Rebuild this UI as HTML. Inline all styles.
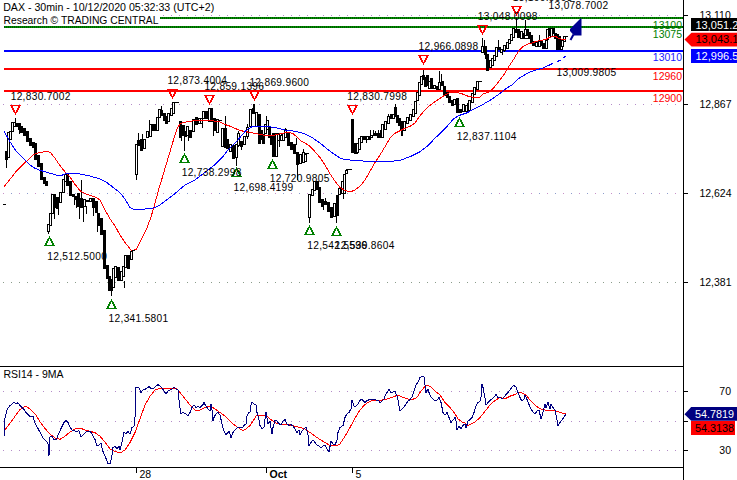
<!DOCTYPE html>
<html><head><meta charset="utf-8"><title>DAX 30min</title>
<style>
html,body{margin:0;padding:0;background:#fff;}
body{width:737px;height:480px;overflow:hidden;}
svg{display:block;font-family:"Liberation Sans", Arial, sans-serif;}
</style></head><body>
<svg width="737" height="480" viewBox="0 0 737 480">
<rect width="737" height="480" fill="#fff"/>
<line x1="3" y1="15.5" x2="683" y2="15.5" stroke="#b48cc8" stroke-width="1" stroke-dasharray="1 7"/>
<line x1="3" y1="104.5" x2="683" y2="104.5" stroke="#b48cc8" stroke-width="1" stroke-dasharray="1 7"/>
<line x1="3" y1="193.5" x2="683" y2="193.5" stroke="#c890c8" stroke-width="1" stroke-dasharray="1 15"/>
<line x1="11" y1="193.5" x2="683" y2="193.5" stroke="#8c9ccc" stroke-width="1" stroke-dasharray="1 15"/>
<line x1="3" y1="282.5" x2="683" y2="282.5" stroke="#8a9c8a" stroke-width="1" stroke-dasharray="1 7"/>
<line x1="3" y1="391.5" x2="683" y2="391.5" stroke="#b48cc8" stroke-width="1" stroke-dasharray="1 7"/>
<line x1="3" y1="421.5" x2="683" y2="421.5" stroke="#b48cc8" stroke-width="1" stroke-dasharray="1 7"/>
<line x1="3" y1="450.5" x2="683" y2="450.5" stroke="#b48cc8" stroke-width="1" stroke-dasharray="1 7"/>
<rect x="160" y="17" width="523" height="2" fill="#009400"/>
<line x1="160" y1="18" x2="683" y2="18" stroke="#005800" stroke-width="2" stroke-dasharray="1 1"/>
<rect x="4" y="26" width="679" height="2" fill="#009400"/>
<line x1="4" y1="27" x2="683" y2="27" stroke="#005800" stroke-width="2" stroke-dasharray="1 1"/>
<rect x="4" y="50" width="679" height="2" fill="#0000ff"/>
<rect x="4" y="68" width="679" height="2" fill="#ff0000"/>
<rect x="4" y="90" width="679" height="2" fill="#ff0000"/>
<g shape-rendering="crispEdges"><rect x="5" y="150.8" width="3" height="9.2" fill="#000"/>
<rect x="7.5" y="132.2" width="2" height="25.6" fill="#fff" stroke="#000" stroke-width="1"/>
<rect x="9.5" y="131.3" width="2" height="8.2" fill="#fff" stroke="#000" stroke-width="1"/>
<rect x="11.5" y="122.2" width="2" height="9.0" fill="#fff" stroke="#000" stroke-width="1"/>
<rect x="13.5" y="122.2" width="2" height="4.0" fill="#fff" stroke="#000" stroke-width="1"/>
<rect x="15" y="123.3" width="3" height="3.4" fill="#000"/>
<rect x="18" y="123.3" width="3" height="6.7" fill="#000"/>
<rect x="20" y="125.8" width="3" height="7.5" fill="#000"/>
<rect x="23" y="128.3" width="3" height="7.5" fill="#000"/>
<rect x="26" y="130.8" width="3" height="10.9" fill="#000"/>
<rect x="29" y="138.3" width="3" height="7.5" fill="#000"/>
<rect x="32" y="141.7" width="3" height="5.8" fill="#000"/>
<rect x="34" y="143.3" width="3" height="16.7" fill="#000"/>
<rect x="37" y="155.0" width="3" height="11.7" fill="#000"/>
<rect x="40" y="163.3" width="3" height="16.7" fill="#000"/>
<rect x="43" y="176.7" width="3" height="7.3" fill="#000"/>
<rect x="45" y="180.8" width="3" height="5.0" fill="#000"/>
<rect x="47.5" y="224.8" width="2" height="6.3" fill="#fff" stroke="#000" stroke-width="1"/>
<rect x="49.5" y="213.1" width="2" height="12.2" fill="#fff" stroke="#000" stroke-width="1"/>
<rect x="51.5" y="194.9" width="2" height="18.7" fill="#fff" stroke="#000" stroke-width="1"/>
<rect x="53" y="194.4" width="3" height="13.9" fill="#000"/>
<rect x="56" y="197.3" width="3" height="11.7" fill="#000"/>
<rect x="59.5" y="192.7" width="2" height="10.0" fill="#fff" stroke="#000" stroke-width="1"/>
<rect x="62.5" y="179.6" width="2" height="12.9" fill="#fff" stroke="#000" stroke-width="1"/>
<rect x="64.5" y="174.5" width="2" height="7.0" fill="#fff" stroke="#000" stroke-width="1"/>
<rect x="66" y="174.0" width="3" height="11.7" fill="#000"/>
<rect x="69" y="180.6" width="3" height="15.3" fill="#000"/>
<rect x="72" y="193.7" width="3" height="2.9" fill="#000"/>
<rect x="75" y="196.0" width="3" height="4.0" fill="#000"/>
<rect x="77" y="193.0" width="3" height="13.8" fill="#000"/>
<rect x="80" y="198.0" width="3" height="9.5" fill="#000"/>
<rect x="83.5" y="199.3" width="2" height="7.0" fill="#fff" stroke="#000" stroke-width="1"/>
<rect x="86.5" y="200.0" width="2" height="1.2" fill="#fff" stroke="#000" stroke-width="1"/>
<rect x="89.5" y="198.5" width="2" height="2.7" fill="#fff" stroke="#000" stroke-width="1"/>
<rect x="92" y="198.0" width="3" height="10.3" fill="#000"/>
<rect x="95" y="201.0" width="3" height="12.0" fill="#000"/>
<rect x="97" y="212.6" width="3" height="13.2" fill="#000"/>
<rect x="100" y="217.5" width="3" height="17.5" fill="#000"/>
<rect x="103" y="230.0" width="3" height="38.8" fill="#000"/>
<rect x="106" y="265.0" width="3" height="13.8" fill="#000"/>
<rect x="108" y="276.0" width="3" height="15.0" fill="#000"/>
<rect x="110" y="278.8" width="3" height="12.2" fill="#000"/>
<rect x="112.5" y="268.5" width="2" height="19.0" fill="#fff" stroke="#000" stroke-width="1"/>
<rect x="114.5" y="266.5" width="2" height="10.5" fill="#fff" stroke="#000" stroke-width="1"/>
<rect x="117" y="267.0" width="3" height="13.6" fill="#000"/>
<rect x="120.5" y="271.0" width="2" height="9.5" fill="#fff" stroke="#000" stroke-width="1"/>
<rect x="122.5" y="266.5" width="2" height="9.5" fill="#fff" stroke="#000" stroke-width="1"/>
<rect x="124.5" y="255.5" width="2" height="11.5" fill="#fff" stroke="#000" stroke-width="1"/>
<rect x="127" y="255.0" width="3" height="13.8" fill="#000"/>
<rect x="130.5" y="251.1" width="2" height="8.4" fill="#fff" stroke="#000" stroke-width="1"/>
<rect x="135.5" y="144.2" width="2" height="30.3" fill="#fff" stroke="#000" stroke-width="1"/>
<rect x="137" y="140.0" width="3" height="5.5" fill="#000"/>
<rect x="140" y="139.0" width="3" height="12.0" fill="#000"/>
<rect x="143.5" y="139.5" width="2" height="9.0" fill="#fff" stroke="#000" stroke-width="1"/>
<rect x="146.5" y="131.4" width="2" height="6.3" fill="#fff" stroke="#000" stroke-width="1"/>
<rect x="149.5" y="124.9" width="2" height="11.9" fill="#fff" stroke="#000" stroke-width="1"/>
<rect x="152" y="123.5" width="3" height="7.4" fill="#000"/>
<rect x="154" y="123.5" width="3" height="7.4" fill="#000"/>
<rect x="156.5" y="117.6" width="2" height="12.8" fill="#fff" stroke="#000" stroke-width="1"/>
<rect x="158.5" y="109.3" width="2" height="8.2" fill="#fff" stroke="#000" stroke-width="1"/>
<rect x="160" y="109.8" width="3" height="6.4" fill="#000"/>
<rect x="163" y="112.5" width="3" height="8.3" fill="#000"/>
<rect x="165" y="116.1" width="3" height="8.3" fill="#000"/>
<rect x="167.5" y="113.0" width="2" height="8.2" fill="#fff" stroke="#000" stroke-width="1"/>
<rect x="170.5" y="108.5" width="2" height="7.2" fill="#fff" stroke="#000" stroke-width="1"/>
<rect x="172.5" y="102.9" width="2" height="10.9" fill="#fff" stroke="#000" stroke-width="1"/>
<rect x="179" y="121.0" width="3" height="17.0" fill="#000"/>
<rect x="182" y="124.9" width="3" height="11.1" fill="#000"/>
<rect x="184" y="131.0" width="3" height="5.8" fill="#000"/>
<rect x="186.5" y="126.5" width="2" height="8.5" fill="#fff" stroke="#000" stroke-width="1"/>
<rect x="189" y="130.0" width="3" height="8.0" fill="#000"/>
<rect x="192.5" y="119.5" width="2" height="12.4" fill="#fff" stroke="#000" stroke-width="1"/>
<rect x="195" y="117.4" width="3" height="7.5" fill="#000"/>
<rect x="198.5" y="118.5" width="2" height="4.6" fill="#fff" stroke="#000" stroke-width="1"/>
<rect x="200.5" y="118.5" width="2" height="4.6" fill="#fff" stroke="#000" stroke-width="1"/>
<rect x="202.5" y="111.0" width="2" height="7.8" fill="#fff" stroke="#000" stroke-width="1"/>
<rect x="205" y="110.5" width="3" height="8.1" fill="#000"/>
<rect x="208.5" y="108.5" width="2" height="12.8" fill="#fff" stroke="#000" stroke-width="1"/>
<rect x="210" y="108.0" width="3" height="13.8" fill="#000"/>
<rect x="213" y="118.0" width="3" height="13.0" fill="#000"/>
<rect x="216.5" y="119.8" width="2" height="12.8" fill="#fff" stroke="#000" stroke-width="1"/>
<rect x="219.5" y="120.0" width="2" height="0.5" fill="#fff" stroke="#000" stroke-width="1"/>
<rect x="221.5" y="128.2" width="2" height="18.5" fill="#fff" stroke="#000" stroke-width="1"/>
<rect x="224" y="127.7" width="3" height="20.3" fill="#000"/>
<rect x="226" y="139.0" width="3" height="9.7" fill="#000"/>
<rect x="229.5" y="144.0" width="2" height="7.2" fill="#fff" stroke="#000" stroke-width="1"/>
<rect x="232" y="145.0" width="3" height="13.5" fill="#000"/>
<rect x="235.5" y="144.7" width="2" height="12.5" fill="#fff" stroke="#000" stroke-width="1"/>
<rect x="238" y="130.7" width="1" height="15.8" fill="#000"/>
<rect x="237.5" y="133.3" width="2" height="11.7" fill="#fff" stroke="#000" stroke-width="1"/>
<rect x="240" y="140.5" width="3" height="6.0" fill="#000"/>
<rect x="243.5" y="136.5" width="2" height="8.0" fill="#fff" stroke="#000" stroke-width="1"/>
<rect x="247" y="124.0" width="1" height="15.0" fill="#000"/>
<rect x="246.5" y="127.9" width="2" height="8.3" fill="#fff" stroke="#000" stroke-width="1"/>
<rect x="249.5" y="109.5" width="2" height="17.0" fill="#fff" stroke="#000" stroke-width="1"/>
<rect x="252" y="108.2" width="3" height="5.3" fill="#000"/>
<rect x="255.5" y="112.5" width="2" height="14.0" fill="#fff" stroke="#000" stroke-width="1"/>
<rect x="258" y="113.5" width="3" height="30.0" fill="#000"/>
<rect x="260" y="130.4" width="3" height="9.2" fill="#000"/>
<rect x="262" y="134.3" width="3" height="9.2" fill="#000"/>
<rect x="264.5" y="124.3" width="2" height="9.2" fill="#fff" stroke="#000" stroke-width="1"/>
<rect x="266.5" y="120.0" width="2" height="9.2" fill="#fff" stroke="#000" stroke-width="1"/>
<rect x="268" y="126.0" width="3" height="12.4" fill="#000"/>
<rect x="270" y="134.8" width="3" height="10.2" fill="#000"/>
<rect x="272" y="133.3" width="3" height="24.1" fill="#000"/>
<rect x="275.5" y="133.8" width="2" height="23.1" fill="#fff" stroke="#000" stroke-width="1"/>
<rect x="277.5" y="133.8" width="2" height="6.3" fill="#fff" stroke="#000" stroke-width="1"/>
<rect x="281" y="132.6" width="1" height="8.7" fill="#000"/>
<rect x="280.5" y="135.0" width="2" height="5.7" fill="#fff" stroke="#000" stroke-width="1"/>
<rect x="282.5" y="133.4" width="2" height="7.1" fill="#fff" stroke="#000" stroke-width="1"/>
<rect x="284.5" y="129.5" width="2" height="7.7" fill="#fff" stroke="#000" stroke-width="1"/>
<rect x="287" y="131.9" width="3" height="13.8" fill="#000"/>
<rect x="290" y="142.0" width="3" height="8.0" fill="#000"/>
<rect x="293" y="144.3" width="3" height="9.4" fill="#000"/>
<rect x="296" y="151.5" width="3" height="13.2" fill="#000"/>
<rect x="299.5" y="154.2" width="2" height="9.3" fill="#fff" stroke="#000" stroke-width="1"/>
<rect x="302.5" y="152.8" width="2" height="9.2" fill="#fff" stroke="#000" stroke-width="1"/>
<rect x="304.5" y="154.2" width="2" height="7.0" fill="#fff" stroke="#000" stroke-width="1"/>
<rect x="308.5" y="194.1" width="2" height="23.8" fill="#fff" stroke="#000" stroke-width="1"/>
<rect x="311.5" y="189.3" width="2" height="6.6" fill="#fff" stroke="#000" stroke-width="1"/>
<rect x="313.5" y="181.8" width="2" height="8.6" fill="#fff" stroke="#000" stroke-width="1"/>
<rect x="316" y="181.3" width="3" height="8.9" fill="#000"/>
<rect x="318" y="186.8" width="3" height="16.5" fill="#000"/>
<rect x="321" y="199.0" width="3" height="8.4" fill="#000"/>
<rect x="324" y="201.2" width="3" height="3.4" fill="#000"/>
<rect x="327" y="201.9" width="3" height="9.6" fill="#000"/>
<rect x="330" y="207.4" width="3" height="11.0" fill="#000"/>
<rect x="333.5" y="203.1" width="2" height="13.4" fill="#fff" stroke="#000" stroke-width="1"/>
<rect x="336" y="195.0" width="3" height="21.3" fill="#000"/>
<rect x="338.5" y="188.6" width="2" height="5.9" fill="#fff" stroke="#000" stroke-width="1"/>
<rect x="341.5" y="181.8" width="2" height="12.0" fill="#fff" stroke="#000" stroke-width="1"/>
<rect x="343.5" y="174.9" width="2" height="18.2" fill="#fff" stroke="#000" stroke-width="1"/>
<rect x="345.5" y="170.8" width="2" height="3.1" fill="#fff" stroke="#000" stroke-width="1"/>
<rect x="351" y="118.8" width="3" height="33.8" fill="#000"/>
<rect x="354" y="142.5" width="3" height="11.2" fill="#000"/>
<rect x="356.5" y="143.0" width="2" height="9.0" fill="#fff" stroke="#000" stroke-width="1"/>
<rect x="358.5" y="138.0" width="2" height="11.5" fill="#fff" stroke="#000" stroke-width="1"/>
<rect x="360.5" y="136.1" width="2" height="5.9" fill="#fff" stroke="#000" stroke-width="1"/>
<rect x="363" y="135.6" width="3" height="4.4" fill="#000"/>
<rect x="366.5" y="136.1" width="2" height="3.4" fill="#fff" stroke="#000" stroke-width="1"/>
<rect x="368" y="135.6" width="3" height="4.4" fill="#000"/>
<rect x="370.5" y="135.5" width="2" height="1.5" fill="#fff" stroke="#000" stroke-width="1"/>
<rect x="373" y="133.0" width="3" height="3.2" fill="#000"/>
<rect x="375" y="133.0" width="3" height="3.2" fill="#000"/>
<rect x="377" y="132.5" width="3" height="5.0" fill="#000"/>
<rect x="379" y="132.5" width="3" height="5.0" fill="#000"/>
<rect x="381.5" y="124.9" width="2" height="12.1" fill="#fff" stroke="#000" stroke-width="1"/>
<rect x="384.5" y="121.8" width="2" height="7.2" fill="#fff" stroke="#000" stroke-width="1"/>
<rect x="387.5" y="116.1" width="2" height="7.2" fill="#fff" stroke="#000" stroke-width="1"/>
<rect x="390" y="114.0" width="3" height="5.0" fill="#000"/>
<rect x="392.5" y="114.5" width="2" height="4.0" fill="#fff" stroke="#000" stroke-width="1"/>
<rect x="394" y="107.0" width="3" height="9.6" fill="#000"/>
<rect x="396" y="115.0" width="3" height="7.7" fill="#000"/>
<rect x="398" y="118.3" width="3" height="7.7" fill="#000"/>
<rect x="400" y="121.0" width="3" height="10.2" fill="#000"/>
<rect x="403.5" y="121.5" width="2" height="9.2" fill="#fff" stroke="#000" stroke-width="1"/>
<rect x="406.5" y="117.1" width="2" height="6.4" fill="#fff" stroke="#000" stroke-width="1"/>
<rect x="409.5" y="114.2" width="2" height="6.3" fill="#fff" stroke="#000" stroke-width="1"/>
<rect x="412.5" y="109.9" width="2" height="6.2" fill="#fff" stroke="#000" stroke-width="1"/>
<rect x="414.5" y="101.1" width="2" height="12.1" fill="#fff" stroke="#000" stroke-width="1"/>
<rect x="416.5" y="92.4" width="2" height="8.4" fill="#fff" stroke="#000" stroke-width="1"/>
<rect x="418.5" y="82.9" width="2" height="12.8" fill="#fff" stroke="#000" stroke-width="1"/>
<rect x="420.5" y="76.3" width="2" height="7.8" fill="#fff" stroke="#000" stroke-width="1"/>
<rect x="422" y="75.0" width="3" height="5.0" fill="#000"/>
<rect x="424" y="76.6" width="3" height="10.2" fill="#000"/>
<rect x="426" y="75.0" width="3" height="11.2" fill="#000"/>
<rect x="428.5" y="81.1" width="2" height="6.9" fill="#fff" stroke="#000" stroke-width="1"/>
<rect x="430" y="77.8" width="3" height="10.7" fill="#000"/>
<rect x="433.5" y="85.6" width="2" height="2.9" fill="#fff" stroke="#000" stroke-width="1"/>
<rect x="436" y="86.2" width="3" height="3.4" fill="#000"/>
<rect x="438.5" y="82.2" width="2" height="6.9" fill="#fff" stroke="#000" stroke-width="1"/>
<rect x="441" y="80.6" width="3" height="5.6" fill="#000"/>
<rect x="443" y="85.7" width="3" height="10.7" fill="#000"/>
<rect x="446" y="91.9" width="3" height="5.6" fill="#000"/>
<rect x="448" y="95.8" width="3" height="7.3" fill="#000"/>
<rect x="451" y="99.7" width="3" height="6.3" fill="#000"/>
<rect x="453.5" y="99.1" width="2" height="5.8" fill="#fff" stroke="#000" stroke-width="1"/>
<rect x="456" y="98.0" width="3" height="14.7" fill="#000"/>
<rect x="459" y="108.7" width="3" height="4.5" fill="#000"/>
<rect x="462.5" y="104.7" width="2" height="6.9" fill="#fff" stroke="#000" stroke-width="1"/>
<rect x="465.5" y="105.9" width="2" height="5.7" fill="#fff" stroke="#000" stroke-width="1"/>
<rect x="468.5" y="100.2" width="2" height="10.3" fill="#fff" stroke="#000" stroke-width="1"/>
<rect x="471.5" y="93.5" width="2" height="9.1" fill="#fff" stroke="#000" stroke-width="1"/>
<rect x="473.5" y="87.3" width="2" height="7.4" fill="#fff" stroke="#000" stroke-width="1"/>
<rect x="476.5" y="81.7" width="2" height="7.4" fill="#fff" stroke="#000" stroke-width="1"/>
<rect x="481.5" y="46.0" width="2" height="6.0" fill="#fff" stroke="#000" stroke-width="1"/>
<rect x="484" y="45.5" width="3" height="9.3" fill="#000"/>
<rect x="486" y="53.9" width="3" height="16.9" fill="#000"/>
<rect x="489.5" y="60.5" width="2" height="6.5" fill="#fff" stroke="#000" stroke-width="1"/>
<rect x="491.5" y="58.6" width="2" height="6.9" fill="#fff" stroke="#000" stroke-width="1"/>
<rect x="493.5" y="55.8" width="2" height="4.7" fill="#fff" stroke="#000" stroke-width="1"/>
<rect x="495.5" y="47.8" width="2" height="8.4" fill="#fff" stroke="#000" stroke-width="1"/>
<rect x="498" y="47.3" width="3" height="2.9" fill="#000"/>
<rect x="500.5" y="49.7" width="2" height="2.8" fill="#fff" stroke="#000" stroke-width="1"/>
<rect x="503.5" y="45.5" width="2" height="5.0" fill="#fff" stroke="#000" stroke-width="1"/>
<rect x="506.5" y="42.8" width="2" height="5.7" fill="#fff" stroke="#000" stroke-width="1"/>
<rect x="508.5" y="39.1" width="2" height="4.4" fill="#fff" stroke="#000" stroke-width="1"/>
<rect x="510.5" y="34.5" width="2" height="5.7" fill="#fff" stroke="#000" stroke-width="1"/>
<rect x="512.5" y="28.7" width="2" height="9.0" fill="#fff" stroke="#000" stroke-width="1"/>
<rect x="514" y="28.6" width="3" height="4.6" fill="#000"/>
<rect x="517" y="28.6" width="3" height="9.6" fill="#000"/>
<rect x="520.5" y="31.2" width="2" height="7.3" fill="#fff" stroke="#000" stroke-width="1"/>
<rect x="522" y="33.2" width="3" height="5.8" fill="#000"/>
<rect x="524.5" y="29.5" width="2" height="5.7" fill="#fff" stroke="#000" stroke-width="1"/>
<rect x="526" y="29.0" width="3" height="7.0" fill="#000"/>
<rect x="528" y="32.0" width="3" height="7.0" fill="#000"/>
<rect x="530" y="34.8" width="3" height="8.4" fill="#000"/>
<rect x="532" y="40.7" width="3" height="5.0" fill="#000"/>
<rect x="535.5" y="42.0" width="2" height="4.8" fill="#fff" stroke="#000" stroke-width="1"/>
<rect x="538.5" y="41.2" width="2" height="4.8" fill="#fff" stroke="#000" stroke-width="1"/>
<rect x="540" y="40.3" width="3" height="5.7" fill="#000"/>
<rect x="542" y="42.8" width="3" height="5.7" fill="#000"/>
<rect x="545.5" y="40.0" width="2" height="8.0" fill="#fff" stroke="#000" stroke-width="1"/>
<rect x="546.5" y="29.5" width="2" height="10.3" fill="#fff" stroke="#000" stroke-width="1"/>
<rect x="548" y="27.9" width="3" height="8.2" fill="#000"/>
<rect x="550.5" y="28.4" width="2" height="8.0" fill="#fff" stroke="#000" stroke-width="1"/>
<rect x="552" y="27.9" width="3" height="6.0" fill="#000"/>
<rect x="554" y="32.8" width="3" height="6.4" fill="#000"/>
<rect x="556" y="33.5" width="3" height="16.1" fill="#000"/>
<rect x="558" y="35.8" width="3" height="13.9" fill="#000"/>
<rect x="560.5" y="45.2" width="2" height="3.9" fill="#fff" stroke="#000" stroke-width="1"/>
<rect x="561.5" y="40.4" width="2" height="5.7" fill="#fff" stroke="#000" stroke-width="1"/>
<rect x="563.5" y="36.6" width="2" height="4.6" fill="#fff" stroke="#000" stroke-width="1"/>
<rect x="48" y="231.0" width="1" height="2.8" fill="#000"/>
<rect x="54" y="208.0" width="1" height="10.5" fill="#000"/>
<rect x="58" y="209.0" width="1" height="5.8" fill="#000"/>
<rect x="74" y="196.0" width="1" height="8.6" fill="#000"/>
<rect x="76" y="198.0" width="1" height="10.3" fill="#000"/>
<rect x="79" y="206.0" width="1" height="13.2" fill="#000"/>
<rect x="81" y="179.8" width="1" height="18.2" fill="#000"/>
<rect x="83" y="207.0" width="1" height="15.0" fill="#000"/>
<rect x="86" y="206.0" width="1" height="8.0" fill="#000"/>
<rect x="93" y="208.0" width="1" height="8.3" fill="#000"/>
<rect x="97" y="225.0" width="1" height="7.3" fill="#000"/>
<rect x="6" y="158.0" width="1" height="10.0" fill="#000"/>
<rect x="15" y="117.5" width="1" height="4.5" fill="#000"/>
<rect x="19" y="128.0" width="1" height="6.0" fill="#000"/>
<rect x="124" y="281.0" width="1" height="7.0" fill="#000"/>
<rect x="136" y="175.0" width="1" height="4.5" fill="#000"/>
<rect x="138" y="132.7" width="1" height="7.3" fill="#000"/>
<rect x="142" y="133.6" width="1" height="5.4" fill="#000"/>
<rect x="149" y="119.9" width="1" height="4.5" fill="#000"/>
<rect x="161" y="106.0" width="1" height="4.0" fill="#000"/>
<rect x="181" y="138.0" width="1" height="3.0" fill="#000"/>
<rect x="184" y="134.0" width="1" height="16.5" fill="#000"/>
<rect x="188" y="135.0" width="1" height="6.0" fill="#000"/>
<rect x="202" y="123.0" width="1" height="5.0" fill="#000"/>
<rect x="213" y="131.0" width="1" height="4.5" fill="#000"/>
<rect x="225" y="115.7" width="1" height="12.3" fill="#000"/>
<rect x="236" y="157.0" width="1" height="9.0" fill="#000"/>
<rect x="241" y="146.0" width="1" height="3.5" fill="#000"/>
<rect x="253" y="103.7" width="1" height="4.8" fill="#000"/>
<rect x="254" y="103.7" width="1" height="4.8" fill="#000"/>
<rect x="266" y="115.8" width="1" height="4.2" fill="#000"/>
<rect x="279" y="140.0" width="1" height="7.2" fill="#000"/>
<rect x="285" y="128.2" width="1" height="1.8" fill="#000"/>
<rect x="296" y="138.4" width="1" height="6.6" fill="#000"/>
<rect x="297" y="164.0" width="1" height="16.0" fill="#000"/>
<rect x="303" y="149.4" width="1" height="3.6" fill="#000"/>
<rect x="309" y="218.0" width="1" height="4.5" fill="#000"/>
<rect x="323" y="207.0" width="1" height="2.5" fill="#000"/>
<rect x="325" y="197.8" width="1" height="3.7" fill="#000"/>
<rect x="336" y="216.0" width="1" height="6.5" fill="#000"/>
<rect x="343" y="194.0" width="1" height="4.5" fill="#000"/>
<rect x="357" y="152.0" width="1" height="2.4" fill="#000"/>
<rect x="366" y="140.0" width="1" height="2.5" fill="#000"/>
<rect x="370" y="130.0" width="1" height="5.0" fill="#000"/>
<rect x="373" y="130.0" width="1" height="3.0" fill="#000"/>
<rect x="375" y="130.6" width="1" height="2.4" fill="#000"/>
<rect x="378" y="130.0" width="1" height="2.5" fill="#000"/>
<rect x="380" y="130.0" width="1" height="2.5" fill="#000"/>
<rect x="388" y="114.4" width="1" height="1.6" fill="#000"/>
<rect x="395" y="103.8" width="1" height="10.2" fill="#000"/>
<rect x="401" y="131.0" width="1" height="4.6" fill="#000"/>
<rect x="402" y="131.0" width="1" height="4.6" fill="#000"/>
<rect x="423" y="69.5" width="1" height="6.5" fill="#000"/>
<rect x="439" y="71.0" width="1" height="11.0" fill="#000"/>
<rect x="441" y="73.9" width="1" height="7.1" fill="#000"/>
<rect x="467" y="103.0" width="1" height="2.4" fill="#000"/>
<rect x="471" y="99.2" width="1" height="0.8" fill="#000"/>
<rect x="482" y="38.0" width="1" height="8.0" fill="#000"/>
<rect x="484" y="39.8" width="1" height="6.2" fill="#000"/>
<rect x="485" y="54.0" width="1" height="4.6" fill="#000"/>
<rect x="498" y="39.8" width="1" height="8.2" fill="#000"/>
<rect x="502" y="53.0" width="1" height="1.8" fill="#000"/>
<rect x="516" y="17.7" width="1" height="11.3" fill="#000"/>
<rect x="525" y="19.8" width="1" height="10.2" fill="#000"/>
<rect x="539" y="35.0" width="1" height="6.4" fill="#000"/>
<rect x="504" y="49.8" width="1" height="2.5" fill="#000"/>
<rect x="111" y="290.0" width="1" height="6.0" fill="#000"/>
<rect x="100" y="230.0" width="1" height="5.0" fill="#000"/></g>
<polyline points="4.0,186.7 8.0,181.7 12.0,176.7 16.0,171.7 20.0,167.5 25.0,162.5 30.0,158.3 33.0,155.0 36.0,153.7 40.0,152.5 45.0,151.7 48.0,151.2 51.0,153.0 55.0,158.3 60.0,165.6 65.0,171.9 70.0,177.0 75.0,184.4 80.0,190.6 85.0,193.8 90.0,195.4 95.0,196.9 100.0,200.0 105.0,210.0 110.0,218.8 115.0,226.0 120.0,235.0 125.0,242.5 130.0,248.8 132.0,251.2 136.5,249.0 140.8,240.4 146.7,228.7 151.0,217.0 154.0,206.8 158.3,190.8 162.7,176.2 167.0,161.6 171.4,147.0 174.4,136.9 177.3,128.1 180.2,123.7 184.6,122.3 190.0,121.2 200.0,120.0 210.0,120.0 215.0,121.2 220.0,122.0 225.0,124.5 230.0,126.2 240.0,130.5 250.0,132.5 262.0,134.8 267.8,136.0 273.7,135.5 281.0,133.3 288.2,132.6 292.6,133.3 297.0,137.0 301.4,141.3 305.7,143.5 310.1,146.4 313.0,149.5 320.0,157.5 325.0,165.0 330.0,173.8 335.0,181.2 340.0,187.5 345.0,190.5 350.0,192.0 355.0,190.0 360.0,186.2 365.0,180.0 370.0,171.2 375.0,162.5 380.0,155.0 385.0,146.7 390.0,138.3 395.0,133.3 400.0,130.8 405.0,128.3 410.0,126.3 415.0,123.0 420.0,115.8 425.0,110.0 430.0,105.3 435.0,101.7 440.0,98.3 445.0,95.0 450.0,92.5 455.0,92.0 462.0,93.8 468.0,96.2 475.0,97.6 480.0,97.3 483.0,94.1 489.0,92.0 493.3,88.3 499.2,81.0 505.0,73.0 509.4,65.7 513.7,59.2 518.1,51.9 522.5,46.8 526.9,44.3 531.2,43.4 536.0,41.4 545.0,39.7 549.5,37.6 553.3,36.1 555.5,36.4 557.8,38.0 561.5,39.1 566.0,39.7" fill="none" stroke="#ff0000" stroke-width="1" shape-rendering="crispEdges"/>
<polyline points="4.0,131.3 8.0,138.3 12.0,145.0 16.0,150.8 20.0,155.0 25.0,160.0 30.0,165.0 35.0,168.3 40.0,170.3 45.0,171.7 50.0,173.3 60.0,176.0 65.0,174.0 70.0,173.5 80.0,174.0 90.0,176.0 100.0,179.0 106.0,182.0 112.0,186.5 120.0,192.7 125.0,199.0 130.0,207.5 133.0,209.0 140.0,209.2 150.0,208.8 155.0,207.5 160.0,205.0 165.0,201.0 172.0,196.0 178.0,191.0 185.0,185.0 195.0,180.0 205.0,172.5 216.0,163.7 222.0,157.7 228.0,150.0 234.0,144.3 240.0,137.5 246.0,130.5 252.0,126.7 256.5,126.2 265.0,126.2 275.0,127.5 285.0,130.0 295.0,131.2 305.0,133.8 312.0,137.5 320.0,143.0 330.0,151.2 340.0,158.0 345.0,159.5 355.0,160.5 370.0,161.5 380.0,162.0 390.0,161.5 400.0,160.3 410.0,156.7 420.0,151.7 426.7,146.7 435.0,138.3 441.7,131.7 448.3,125.0 453.3,119.2 458.3,115.8 462.0,114.5 466.0,113.2 470.0,111.2 480.0,106.2 490.4,100.0 499.2,94.1 506.4,88.3 512.3,84.7 518.1,78.8 525.4,74.5 531.2,71.5 537.0,69.7 543.4,67.9" fill="none" stroke="#0000ff" stroke-width="1" shape-rendering="crispEdges"/>
<line x1="543.4" y1="67.9" x2="553.3" y2="63.2" stroke="#0000ff" stroke-width="1" shape-rendering="crispEdges"/>
<line x1="557" y1="61.7" x2="560.6" y2="60.1" stroke="#0000ff" stroke-width="1" shape-rendering="crispEdges"/>
<line x1="562.7" y1="58.5" x2="565.8" y2="56" stroke="#0000ff" stroke-width="1" shape-rendering="crispEdges"/>
<rect x="304" y="153" width="5" height="1" fill="#000"/>
<rect x="174" y="102" width="5" height="1" fill="#000"/>
<rect x="132" y="250" width="3" height="1" fill="#000"/>
<rect x="346" y="169" width="6" height="1" fill="#000"/>
<rect x="478" y="81" width="4" height="1" fill="#000"/>
<rect x="563" y="36" width="5" height="1" fill="#000"/>
<rect x="525" y="38" width="3" height="1" fill="#000"/>
<rect x="3" y="204" width="3" height="1" fill="#000"/>
<path d="M10,105h11v1h-11zM11,106h2v1h-2zM18,106h2v1h-2zM11,107h2v1h-2zM18,107h2v1h-2zM12,108h2v1h-2zM17,108h2v1h-2zM12,109h2v1h-2zM17,109h2v1h-2zM13,110h2v1h-2zM16,110h2v1h-2zM13,111h2v1h-2zM16,111h2v1h-2zM14,112h3v1h-3zM15,113h1v1h-1zM15,114h1v1h-1z" fill="#ff0000"/>
<path d="M167,89h11v1h-11zM168,90h2v1h-2zM175,90h2v1h-2zM168,91h2v1h-2zM175,91h2v1h-2zM169,92h2v1h-2zM174,92h2v1h-2zM169,93h2v1h-2zM174,93h2v1h-2zM170,94h2v1h-2zM173,94h2v1h-2zM170,95h2v1h-2zM173,95h2v1h-2zM171,96h3v1h-3zM172,97h1v1h-1zM172,98h1v1h-1z" fill="#ff0000"/>
<path d="M204,95h11v1h-11zM205,96h2v1h-2zM212,96h2v1h-2zM205,97h2v1h-2zM212,97h2v1h-2zM206,98h2v1h-2zM211,98h2v1h-2zM206,99h2v1h-2zM211,99h2v1h-2zM207,100h2v1h-2zM210,100h2v1h-2zM207,101h2v1h-2zM210,101h2v1h-2zM208,102h3v1h-3zM209,103h1v1h-1zM209,104h1v1h-1z" fill="#ff0000"/>
<path d="M249,91h11v1h-11zM250,92h2v1h-2zM257,92h2v1h-2zM250,93h2v1h-2zM257,93h2v1h-2zM251,94h2v1h-2zM256,94h2v1h-2zM251,95h2v1h-2zM256,95h2v1h-2zM252,96h2v1h-2zM255,96h2v1h-2zM252,97h2v1h-2zM255,97h2v1h-2zM253,98h3v1h-3zM254,99h1v1h-1zM254,100h1v1h-1z" fill="#ff0000"/>
<path d="M347,105h11v1h-11zM348,106h2v1h-2zM355,106h2v1h-2zM348,107h2v1h-2zM355,107h2v1h-2zM349,108h2v1h-2zM354,108h2v1h-2zM349,109h2v1h-2zM354,109h2v1h-2zM350,110h2v1h-2zM353,110h2v1h-2zM350,111h2v1h-2zM353,111h2v1h-2zM351,112h3v1h-3zM352,113h1v1h-1zM352,114h1v1h-1z" fill="#ff0000"/>
<path d="M418,55h11v1h-11zM419,56h2v1h-2zM426,56h2v1h-2zM419,57h2v1h-2zM426,57h2v1h-2zM420,58h2v1h-2zM425,58h2v1h-2zM420,59h2v1h-2zM425,59h2v1h-2zM421,60h2v1h-2zM424,60h2v1h-2zM421,61h2v1h-2zM424,61h2v1h-2zM422,62h3v1h-3zM423,63h1v1h-1zM423,64h1v1h-1z" fill="#ff0000"/>
<path d="M477,25h11v1h-11zM478,26h2v1h-2zM485,26h2v1h-2zM478,27h2v1h-2zM485,27h2v1h-2zM479,28h2v1h-2zM484,28h2v1h-2zM479,29h2v1h-2zM484,29h2v1h-2zM480,30h2v1h-2zM483,30h2v1h-2zM480,31h2v1h-2zM483,31h2v1h-2zM481,32h3v1h-3zM482,33h1v1h-1zM482,34h1v1h-1z" fill="#ff0000"/>
<path d="M511,6h11v1h-11zM512,7h2v1h-2zM519,7h2v1h-2zM512,8h2v1h-2zM519,8h2v1h-2zM513,9h2v1h-2zM518,9h2v1h-2zM513,10h2v1h-2zM518,10h2v1h-2zM514,11h2v1h-2zM517,11h2v1h-2zM514,12h2v1h-2zM517,12h2v1h-2zM515,13h3v1h-3zM516,14h1v1h-1zM516,15h1v1h-1z" fill="#ff0000"/>
<path d="M44,245h11v1h-11zM45,244h2v1h-2zM52,244h2v1h-2zM45,243h2v1h-2zM52,243h2v1h-2zM46,242h2v1h-2zM51,242h2v1h-2zM46,241h2v1h-2zM51,241h2v1h-2zM47,240h2v1h-2zM50,240h2v1h-2zM47,239h2v1h-2zM50,239h2v1h-2zM48,238h3v1h-3zM49,237h1v1h-1zM49,236h1v1h-1z" fill="#008000"/>
<path d="M106,308h11v1h-11zM107,307h2v1h-2zM114,307h2v1h-2zM107,306h2v1h-2zM114,306h2v1h-2zM108,305h2v1h-2zM113,305h2v1h-2zM108,304h2v1h-2zM113,304h2v1h-2zM109,303h2v1h-2zM112,303h2v1h-2zM109,302h2v1h-2zM112,302h2v1h-2zM110,301h3v1h-3zM111,300h1v1h-1zM111,299h1v1h-1z" fill="#008000"/>
<path d="M179,162h11v1h-11zM180,161h2v1h-2zM187,161h2v1h-2zM180,160h2v1h-2zM187,160h2v1h-2zM181,159h2v1h-2zM186,159h2v1h-2zM181,158h2v1h-2zM186,158h2v1h-2zM182,157h2v1h-2zM185,157h2v1h-2zM182,156h2v1h-2zM185,156h2v1h-2zM183,155h3v1h-3zM184,154h1v1h-1zM184,153h1v1h-1z" fill="#008000"/>
<path d="M231,176h11v1h-11zM232,175h2v1h-2zM239,175h2v1h-2zM232,174h2v1h-2zM239,174h2v1h-2zM233,173h2v1h-2zM238,173h2v1h-2zM233,172h2v1h-2zM238,172h2v1h-2zM234,171h2v1h-2zM237,171h2v1h-2zM234,170h2v1h-2zM237,170h2v1h-2zM235,169h3v1h-3zM236,168h1v1h-1zM236,167h1v1h-1z" fill="#008000"/>
<path d="M267,168h11v1h-11zM268,167h2v1h-2zM275,167h2v1h-2zM268,166h2v1h-2zM275,166h2v1h-2zM269,165h2v1h-2zM274,165h2v1h-2zM269,164h2v1h-2zM274,164h2v1h-2zM270,163h2v1h-2zM273,163h2v1h-2zM270,162h2v1h-2zM273,162h2v1h-2zM271,161h3v1h-3zM272,160h1v1h-1zM272,159h1v1h-1z" fill="#008000"/>
<path d="M304,234h11v1h-11zM305,233h2v1h-2zM312,233h2v1h-2zM305,232h2v1h-2zM312,232h2v1h-2zM306,231h2v1h-2zM311,231h2v1h-2zM306,230h2v1h-2zM311,230h2v1h-2zM307,229h2v1h-2zM310,229h2v1h-2zM307,228h2v1h-2zM310,228h2v1h-2zM308,227h3v1h-3zM309,226h1v1h-1zM309,225h1v1h-1z" fill="#008000"/>
<path d="M331,235h11v1h-11zM332,234h2v1h-2zM339,234h2v1h-2zM332,233h2v1h-2zM339,233h2v1h-2zM333,232h2v1h-2zM338,232h2v1h-2zM333,231h2v1h-2zM338,231h2v1h-2zM334,230h2v1h-2zM337,230h2v1h-2zM334,229h2v1h-2zM337,229h2v1h-2zM335,228h3v1h-3zM336,227h1v1h-1zM336,226h1v1h-1z" fill="#008000"/>
<path d="M454,126h11v1h-11zM455,125h2v1h-2zM462,125h2v1h-2zM455,124h2v1h-2zM462,124h2v1h-2zM456,123h2v1h-2zM461,123h2v1h-2zM456,122h2v1h-2zM461,122h2v1h-2zM457,121h2v1h-2zM460,121h2v1h-2zM457,120h2v1h-2zM460,120h2v1h-2zM458,119h3v1h-3zM459,118h1v1h-1zM459,117h1v1h-1z" fill="#008000"/>
<polygon points="580.5,18.5 581.5,18.5 581.5,35.5 574,35.5 570,31 570,29" fill="#000090"/>
<line x1="573.5" y1="34.5" x2="570.5" y2="40" stroke="#000090" stroke-width="2"/>
<text x="10.7" y="100.3" font-size="10.2" fill="#000" text-anchor="start" font-weight="normal" textLength="59.6" lengthAdjust="spacing">12,830.7002</text>
<text x="47.3" y="259.8" font-size="10.2" fill="#000" text-anchor="start" font-weight="normal" textLength="59.6" lengthAdjust="spacing">12,512.5000</text>
<text x="108.6" y="322.2" font-size="10.2" fill="#000" text-anchor="start" font-weight="normal" textLength="59.6" lengthAdjust="spacing">12,341.5801</text>
<text x="167.4" y="84.2" font-size="10.2" fill="#000" text-anchor="start" font-weight="normal" textLength="59.6" lengthAdjust="spacing">12,873.4004</text>
<text x="204.4" y="90" font-size="10.2" fill="#000" text-anchor="start" font-weight="normal" textLength="59.6" lengthAdjust="spacing">12,859.1396</text>
<text x="249.4" y="85.7" font-size="10.2" fill="#000" text-anchor="start" font-weight="normal" textLength="59.6" lengthAdjust="spacing">12,869.9600</text>
<text x="181.7" y="176.3" font-size="10.2" fill="#000" text-anchor="start" font-weight="normal" textLength="59.6" lengthAdjust="spacing">12,738.2998</text>
<text x="233.6" y="191" font-size="10.2" fill="#000" text-anchor="start" font-weight="normal" textLength="59.6" lengthAdjust="spacing">12,698.4199</text>
<text x="269.8" y="182.2" font-size="10.2" fill="#000" text-anchor="start" font-weight="normal" textLength="59.6" lengthAdjust="spacing">12,720.9805</text>
<text x="307.3" y="248.7" font-size="10.2" fill="#000" text-anchor="start" font-weight="normal" textLength="59.6" lengthAdjust="spacing">12,542.5596</text>
<text x="334.8" y="248.7" font-size="10.2" fill="#000" text-anchor="start" font-weight="normal" textLength="59.6" lengthAdjust="spacing">12,539.8604</text>
<text x="347.3" y="100.2" font-size="10.2" fill="#000" text-anchor="start" font-weight="normal" textLength="59.6" lengthAdjust="spacing">12,830.7998</text>
<text x="418.6" y="49.7" font-size="10.2" fill="#000" text-anchor="start" font-weight="normal" textLength="59.6" lengthAdjust="spacing">12,966.0898</text>
<text x="456.8" y="140.2" font-size="10.2" fill="#000" text-anchor="start" font-weight="normal" textLength="59.6" lengthAdjust="spacing">12,837.1104</text>
<text x="477.7" y="20.2" font-size="10.2" fill="#000" text-anchor="start" font-weight="normal" textLength="59.6" lengthAdjust="spacing">13,048.0098</text>
<text x="548.6" y="8.8" font-size="10.2" fill="#000" text-anchor="start" font-weight="normal" textLength="59.6" lengthAdjust="spacing">13,078.7002</text>
<text x="556.5" y="76.2" font-size="10.2" fill="#000" text-anchor="start" font-weight="normal" textLength="59.6" lengthAdjust="spacing">13,009.9805</text>
<text x="512.8" y="1.1" font-size="10.2" fill="#000" text-anchor="start" font-weight="normal" textLength="59.6" lengthAdjust="spacing">13,100.5098</text>
<text x="682" y="28.5" font-size="10.5" fill="#008000" text-anchor="end" font-weight="normal" >13100</text>
<text x="682" y="38" font-size="10.5" fill="#008000" text-anchor="end" font-weight="normal" >13075</text>
<text x="682" y="61" font-size="10.5" fill="#2020ff" text-anchor="end" font-weight="normal" >13010</text>
<text x="682" y="79.5" font-size="10.5" fill="#ff0000" text-anchor="end" font-weight="normal" >12960</text>
<text x="682" y="101.5" font-size="10.5" fill="#ff0000" text-anchor="end" font-weight="normal" >12900</text>
<text x="3.2" y="11" font-size="11" fill="#000" text-anchor="start" font-weight="normal" textLength="211" lengthAdjust="spacingAndGlyphs">DAX - 30min - 10/12/2020 05:32:33 (UTC+2)</text>
<rect x="0" y="13" width="159" height="12" fill="#fff"/>
<text x="3.5" y="23.5" font-size="10.7" fill="#000" text-anchor="start" font-weight="normal" textLength="155" lengthAdjust="spacingAndGlyphs">Research © TRADING CENTRAL</text>
<rect x="0" y="366" width="683" height="1" fill="#000"/>
<rect x="0" y="467" width="683" height="1" fill="#000"/>
<text x="3.5" y="378" font-size="10.5" fill="#000" text-anchor="start" font-weight="normal" >RSI14 - 9MA</text>
<polyline points="4.0,431.3 8.0,425.9 12.0,420.5 16.0,415.0 20.0,409.6 25.0,406.4 28.0,407.5 32.0,411.0 36.0,415.0 40.0,421.8 45.0,428.6 50.0,434.0 55.0,438.0 60.0,439.4 65.0,436.2 70.0,432.0 75.0,429.1 80.0,428.0 85.0,430.0 90.0,431.3 95.0,432.7 100.0,436.2 105.0,442.1 110.0,449.0 115.0,451.4 120.0,453.0 125.0,450.0 130.0,442.5 135.0,432.5 140.0,418.8 145.0,405.0 150.0,396.2 155.0,390.0 160.0,388.2 170.0,388.2 177.0,388.8 180.0,392.5 185.0,398.8 190.0,405.0 195.0,410.0 200.0,410.0 205.0,407.5 210.0,406.2 215.0,408.8 220.0,412.5 225.0,416.2 230.0,421.2 235.0,425.5 240.0,428.8 243.0,430.5 246.0,428.8 250.0,425.5 253.0,421.2 256.0,416.2 258.0,415.0 262.0,415.0 266.0,415.5 270.0,418.8 275.0,422.5 280.0,424.5 285.0,424.5 290.0,425.0 295.0,426.2 300.0,427.5 305.0,428.8 310.0,432.5 315.0,436.2 320.0,439.5 325.0,442.5 330.0,445.5 335.0,445.5 338.0,445.0 340.0,443.8 345.0,436.2 350.0,427.5 355.0,418.0 360.0,410.0 365.0,404.5 370.0,401.2 375.0,400.0 380.0,400.5 385.0,399.5 390.0,398.0 395.0,396.2 398.0,395.0 400.0,396.2 405.0,398.0 410.0,399.5 415.0,398.8 418.0,396.2 420.0,392.5 423.0,388.8 425.0,386.2 428.0,385.8 430.0,386.2 435.0,391.2 440.0,395.0 445.0,402.5 450.0,407.5 455.0,413.8 458.0,418.8 462.0,422.0 465.0,423.0 468.0,425.5 470.0,424.5 475.0,422.0 480.0,417.5 485.0,411.2 490.0,405.0 495.0,400.5 500.0,397.5 505.0,398.8 510.0,396.2 515.0,394.5 518.0,392.5 522.0,393.0 526.0,395.0 530.0,400.0 535.0,405.0 540.0,408.8 545.0,410.0 550.0,410.0 555.0,410.5 560.0,412.5 566.0,413.8" fill="none" stroke="#ff0000" stroke-width="1" shape-rendering="crispEdges"/>
<polyline points="4.0,436.7 5.0,417.8 7.0,409.6 10.0,405.6 14.0,402.3 16.0,403.7 18.0,402.8 20.0,405.6 24.0,409.6 27.0,413.7 30.0,416.4 33.0,416.4 35.0,423.2 38.0,428.6 41.0,434.0 43.0,438.0 46.0,440.8 48.0,443.5 49.0,455.7 50.0,436.7 52.0,436.2 54.0,439.4 56.0,440.0 58.0,435.4 61.0,428.6 64.0,422.6 66.0,420.5 68.0,422.6 70.0,427.2 72.0,430.0 76.0,431.3 79.0,430.8 81.0,436.7 84.0,434.0 87.0,431.3 90.0,431.3 92.0,434.0 95.0,439.4 97.0,446.2 99.0,444.9 101.0,443.5 103.0,451.6 106.0,458.4 108.0,463.8 110.0,463.8 111.0,459.8 112.0,455.0 113.0,447.5 115.0,446.2 117.0,448.8 119.0,446.2 120.0,450.0 122.0,442.5 124.0,432.5 126.0,433.8 128.0,431.2 130.0,434.2 132.0,427.5 134.0,426.2 135.0,417.5 136.0,387.5 137.0,387.0 139.0,388.0 141.0,392.5 143.0,390.0 146.0,388.8 148.0,387.5 149.0,386.2 151.0,388.8 153.0,388.8 156.0,386.2 158.0,384.5 160.0,386.2 162.0,388.0 164.0,391.2 166.0,393.8 168.0,391.2 170.0,390.0 172.0,388.8 174.0,387.5 176.0,388.8 178.0,390.0 179.0,400.0 180.0,407.5 181.0,413.8 183.0,412.5 186.0,413.8 188.0,416.2 190.0,412.5 192.0,407.5 194.0,405.0 196.0,407.5 198.0,406.2 200.0,407.5 203.0,404.5 204.0,402.5 206.0,406.2 208.0,408.8 210.0,411.2 211.0,403.8 212.0,410.0 213.0,421.2 214.0,417.5 216.0,413.8 218.0,412.5 220.0,415.0 222.0,423.8 224.0,431.2 226.0,434.5 228.0,432.5 229.0,431.2 231.0,437.5 233.0,432.5 235.0,430.0 237.0,428.0 240.0,427.0 242.0,428.0 244.0,425.5 246.0,423.8 247.0,416.2 249.0,412.5 250.0,412.5 251.0,405.0 252.0,402.5 254.0,403.8 256.0,405.0 257.0,412.5 259.0,420.0 260.0,425.5 262.0,428.8 264.0,427.5 265.0,418.8 266.0,412.5 267.0,417.5 268.0,423.8 270.0,421.2 272.0,433.8 273.0,427.5 274.0,423.8 275.0,420.0 277.0,421.2 279.0,423.8 281.0,424.5 283.0,421.2 285.0,419.5 287.0,423.8 289.0,425.5 291.0,424.5 293.0,426.2 295.0,428.8 297.0,432.5 299.0,430.0 300.0,435.0 302.0,431.2 304.0,428.8 306.0,427.5 308.0,435.0 309.0,446.2 311.0,442.5 313.0,440.0 315.0,442.5 317.0,445.0 319.0,446.2 321.0,447.5 323.0,446.2 325.0,445.0 327.0,448.8 329.0,452.0 331.0,441.2 333.0,443.8 335.0,445.0 337.0,440.0 338.0,432.5 340.0,427.5 343.0,425.5 345.0,417.5 347.0,413.8 349.0,412.5 351.0,408.8 352.0,400.0 354.0,406.2 356.0,406.2 358.0,403.8 361.0,398.8 363.0,400.5 365.0,402.5 367.0,400.5 370.0,399.5 373.0,399.5 376.0,400.0 378.0,400.0 380.0,402.5 382.0,401.2 384.0,398.8 386.0,393.8 388.0,391.2 389.0,389.5 391.0,392.5 393.0,392.0 395.0,391.2 397.0,396.2 398.0,400.0 400.0,411.2 402.0,408.8 404.0,407.0 406.0,403.8 408.0,401.2 410.0,399.5 412.0,397.0 414.0,391.2 416.0,385.0 418.0,382.0 420.0,377.5 422.0,376.2 424.0,377.0 425.0,385.0 426.0,392.5 428.0,388.8 429.0,392.5 431.0,397.0 433.0,398.8 435.0,401.2 437.0,400.0 439.0,397.5 441.0,402.5 443.0,412.5 445.0,415.0 447.0,412.5 449.0,417.5 451.0,422.5 453.0,420.0 455.0,417.5 456.0,421.2 457.0,430.0 459.0,426.2 461.0,428.8 463.0,425.5 465.0,423.8 466.0,428.0 468.0,421.2 470.0,419.5 472.0,417.5 474.0,412.5 476.0,406.2 478.0,402.5 480.0,401.2 481.0,397.5 482.0,383.8 483.0,387.5 485.0,397.5 486.0,405.0 488.0,402.5 490.0,400.5 492.0,398.8 494.0,397.0 496.0,394.5 498.0,397.5 500.0,397.5 502.0,398.8 504.0,397.0 506.0,394.5 508.0,392.5 510.0,390.0 512.0,387.0 514.0,385.5 516.0,387.0 518.0,392.5 520.0,397.5 522.0,401.2 524.0,398.8 525.0,395.0 527.0,399.5 529.0,404.5 531.0,408.8 533.0,412.0 535.0,413.8 537.0,411.2 539.0,410.0 541.0,418.8 543.0,412.5 545.0,403.8 546.0,407.5 548.0,402.5 550.0,408.8 551.0,403.8 553.0,407.5 555.0,410.0 557.0,420.0 558.0,425.5 560.0,422.5 562.0,420.0 564.0,417.0 566.0,413.8" fill="none" stroke="#000080" stroke-width="1" shape-rendering="crispEdges"/>
<rect x="683" y="0" width="1" height="480" fill="#000"/>
<rect x="683" y="15" width="5" height="1" fill="#000"/>
<rect x="683" y="104" width="5" height="1" fill="#000"/>
<rect x="683" y="193" width="5" height="1" fill="#000"/>
<rect x="683" y="282" width="5" height="1" fill="#000"/>
<rect x="683" y="391" width="5" height="1" fill="#000"/>
<rect x="683" y="421" width="5" height="1" fill="#000"/>
<rect x="683" y="450" width="5" height="1" fill="#000"/>
<text x="699.4" y="19" font-size="10.5" fill="#000" text-anchor="start" font-weight="normal" >13,110</text>
<text x="699.4" y="108" font-size="10.5" fill="#000" text-anchor="start" font-weight="normal" >12,867</text>
<text x="699.4" y="197" font-size="10.5" fill="#000" text-anchor="start" font-weight="normal" >12,624</text>
<text x="699.4" y="286" font-size="10.5" fill="#000" text-anchor="start" font-weight="normal" >12,381</text>
<text x="731" y="395" font-size="10.5" fill="#000" text-anchor="end" font-weight="normal" >70</text>
<text x="731" y="454" font-size="10.5" fill="#000" text-anchor="end" font-weight="normal" >30</text>
<rect x="691" y="18" width="46" height="13" fill="#000"/>
<text x="695.5" y="28.5" font-size="11" fill="#fff" text-anchor="start" font-weight="normal" >13,051.2</text>
<polygon points="684.5,39.5 691.5,32.8 737,32.8 737,46.6 691.5,46.6" fill="#ff0000"/>
<text x="695.5" y="43" font-size="11" fill="#000" text-anchor="start" font-weight="normal" >13,043.1</text>
<rect x="691" y="49" width="46" height="14" fill="#0000ff"/>
<text x="695.5" y="60" font-size="11" fill="#fff" text-anchor="start" font-weight="normal" >12,996.5</text>
<polygon points="684.5,414.3 691.2,407 737,407 737,420.8 691.2,420.8" fill="#000080"/>
<text x="695" y="418.3" font-size="10.8" fill="#fff" text-anchor="start" font-weight="normal" >54.7819</text>
<rect x="691" y="421" width="44" height="14" fill="#ff0000"/>
<text x="695" y="432" font-size="10.8" fill="#000" text-anchor="start" font-weight="normal" >54.3138</text>
<rect x="136" y="467" width="1" height="6" fill="#000"/>
<rect x="266" y="467" width="1" height="6" fill="#000"/>
<rect x="352" y="467" width="1" height="6" fill="#000"/>
<text x="139.5" y="478" font-size="10.5" fill="#000" text-anchor="start" font-weight="normal" >28</text>
<text x="269.5" y="478" font-size="10.5" fill="#000" text-anchor="start" font-weight="bold" >Oct</text>
<text x="355.5" y="478" font-size="10.5" fill="#000" text-anchor="start" font-weight="normal" >5</text>
</svg>
</body></html>
